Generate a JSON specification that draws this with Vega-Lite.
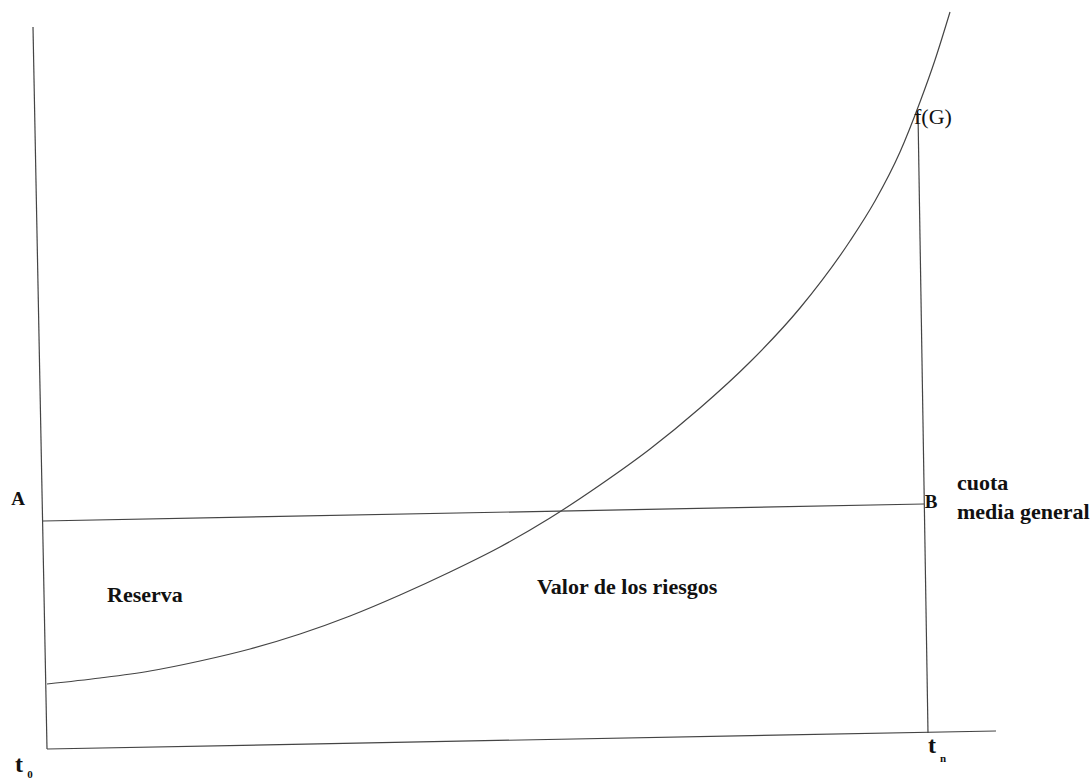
{
  "$schema": "https://vega.github.io/schema/vega-lite/v6.json",
  "width": 1090,
  "height": 781,
  "autosize": {"type": "fit", "contains": "padding"},
  "padding": 0,
  "background": "white",
  "config": {"view": {"stroke": null}},
  "datasets": {
    "segments": [
      {"name": "eje vertical", "x": 33, "y": 754, "x2": 47, "y2": 32},
      {"name": "eje horizontal", "x": 47, "y": 32, "x2": 996, "y2": 50},
      {"name": "vertical tn", "x": 918, "y": 668, "x2": 928, "y2": 48},
      {"name": "cuota media AB", "x": 43, "y": 260, "x2": 924, "y2": 277}
    ],
    "curve": [
      {"x": 47, "y": 97}, {"x": 100, "y": 103}, {"x": 150, "y": 110},
      {"x": 200, "y": 120}, {"x": 250, "y": 132}, {"x": 300, "y": 147},
      {"x": 350, "y": 165}, {"x": 400, "y": 186}, {"x": 450, "y": 209},
      {"x": 500, "y": 234}, {"x": 550, "y": 263}, {"x": 600, "y": 296},
      {"x": 650, "y": 332}, {"x": 700, "y": 373}, {"x": 750, "y": 419},
      {"x": 800, "y": 473}, {"x": 850, "y": 540}, {"x": 875, "y": 580},
      {"x": 900, "y": 629}, {"x": 920, "y": 679}, {"x": 935, "y": 721},
      {"x": 950, "y": 769}
    ],
    "bigLabels": [
      {"label": "Reserva", "x": 107, "y": 179},
      {"label": "Valor de los riesgos", "x": 537, "y": 187},
      {"label": "cuota", "x": 957, "y": 291},
      {"label": "media general", "x": 957, "y": 262}
    ],
    "points": [
      {"label": "A", "x": 18, "y": 282},
      {"label": "B", "x": 931, "y": 279}
    ],
    "func": [
      {"label": "f(G)", "x": 914, "y": 657}
    ],
    "times": [
      {"label": "t", "x": 19, "y": 9},
      {"label": "t", "x": 932, "y": 28}
    ],
    "subs": [
      {"label": "0", "x": 30, "y": 6},
      {"label": "n", "x": 943, "y": 22}
    ]
  },
  "layer": [
    {
      "data": {"name": "segments"},
      "mark": {"type": "rule", "color": "#444", "strokeWidth": 1.2},
      "encoding": {
        "x": {"field": "x", "type": "quantitative", "scale": {"domain": [0, 1090], "nice": false, "zero": false}, "axis": null},
        "y": {"field": "y", "type": "quantitative", "scale": {"domain": [0, 781], "nice": false, "zero": false}, "axis": null},
        "x2": {"field": "x2"},
        "y2": {"field": "y2"}
      }
    },
    {
      "data": {"name": "curve"},
      "mark": {"type": "line", "color": "#444", "strokeWidth": 1.2, "interpolate": "monotone"},
      "encoding": {
        "x": {"field": "x", "type": "quantitative", "scale": {"domain": [0, 1090], "nice": false, "zero": false}, "axis": null},
        "y": {"field": "y", "type": "quantitative", "scale": {"domain": [0, 781], "nice": false, "zero": false}, "axis": null}
      }
    },
    {
      "data": {"name": "bigLabels"},
      "mark": {"type": "text", "font": "Liberation Serif", "fontWeight": "bold", "fontSize": 22, "align": "left", "baseline": "alphabetic", "color": "#111"},
      "encoding": {
        "x": {"field": "x", "type": "quantitative", "scale": {"domain": [0, 1090], "nice": false, "zero": false}, "axis": null},
        "y": {"field": "y", "type": "quantitative", "scale": {"domain": [0, 781], "nice": false, "zero": false}, "axis": null},
        "text": {"field": "label"}
      }
    },
    {
      "data": {"name": "points"},
      "mark": {"type": "text", "font": "Liberation Serif", "fontWeight": "bold", "fontSize": 19, "align": "center", "baseline": "middle", "color": "#111"},
      "encoding": {
        "x": {"field": "x", "type": "quantitative", "scale": {"domain": [0, 1090], "nice": false, "zero": false}, "axis": null},
        "y": {"field": "y", "type": "quantitative", "scale": {"domain": [0, 781], "nice": false, "zero": false}, "axis": null},
        "text": {"field": "label"}
      }
    },
    {
      "data": {"name": "func"},
      "mark": {"type": "text", "font": "Liberation Serif", "fontSize": 22, "align": "left", "baseline": "alphabetic", "color": "#111"},
      "encoding": {
        "x": {"field": "x", "type": "quantitative", "scale": {"domain": [0, 1090], "nice": false, "zero": false}, "axis": null},
        "y": {"field": "y", "type": "quantitative", "scale": {"domain": [0, 781], "nice": false, "zero": false}, "axis": null},
        "text": {"field": "label"}
      }
    },
    {
      "data": {"name": "times"},
      "mark": {"type": "text", "font": "Liberation Serif", "fontWeight": "bold", "fontSize": 24, "align": "center", "baseline": "alphabetic", "color": "#111"},
      "encoding": {
        "x": {"field": "x", "type": "quantitative", "scale": {"domain": [0, 1090], "nice": false, "zero": false}, "axis": null},
        "y": {"field": "y", "type": "quantitative", "scale": {"domain": [0, 781], "nice": false, "zero": false}, "axis": null},
        "text": {"field": "label"}
      }
    },
    {
      "data": {"name": "subs"},
      "mark": {"type": "text", "font": "Liberation Serif", "fontWeight": "bold", "fontSize": 11, "align": "center", "baseline": "middle", "color": "#111"},
      "encoding": {
        "x": {"field": "x", "type": "quantitative", "scale": {"domain": [0, 1090], "nice": false, "zero": false}, "axis": null},
        "y": {"field": "y", "type": "quantitative", "scale": {"domain": [0, 781], "nice": false, "zero": false}, "axis": null},
        "text": {"field": "label"}
      }
    }
  ]
}
